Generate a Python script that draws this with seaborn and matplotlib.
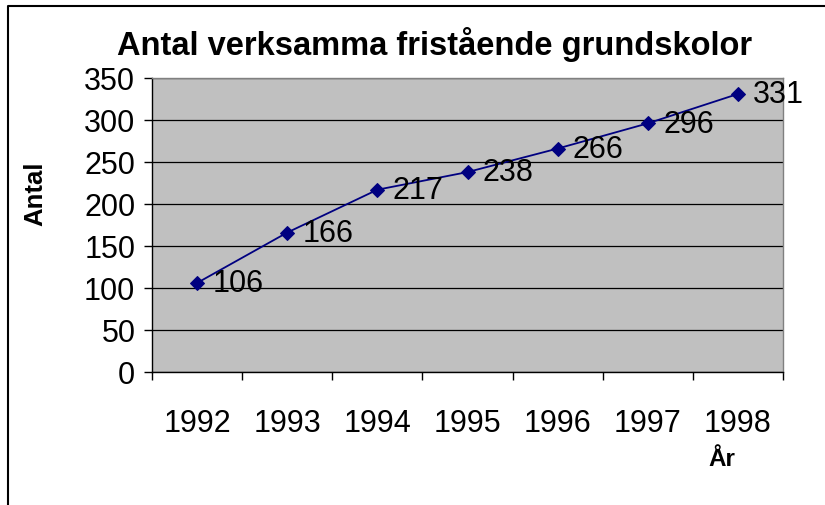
import numpy as np
import pandas as pd
import seaborn as sns
import matplotlib.pyplot as plt
from matplotlib.lines import Line2D
from matplotlib.ticker import FixedLocator, MultipleLocator

# data
years = ["1992", "1993", "1994", "1995", "1996", "1997", "1998"]
schools = [106, 166, 217, 238, 266, 296, 331]

title = "Antal verksamma fristående grundskolor"
x_label = "År"
y_label = "Antal"

df = pd.DataFrame({"year": years, "antal": schools})

sns.set_style("white")
plt.rcParams["font.family"] = ["Liberation Sans", "DejaVu Sans"]
plt.rcParams.update({"text.color": "black", "axes.labelcolor": "black",
                     "xtick.color": "black", "ytick.color": "black"})

fig = plt.figure(figsize=(8.25, 5.05), dpi=100)
ax = fig.add_axes([152 / 825, 1 - 372 / 505, 631 / 825, 294 / 505])
ax.set_facecolor("#C0C0C0")

sns.lineplot(data=df, x="year", y="antal", ax=ax, color="#000080",
             marker="D", markersize=7.5, markeredgecolor="#000080",
             linewidth=1.3, sort=False)

# value labels
for i, v in enumerate(df["antal"]):
    ax.annotate(str(v), (i, v), xytext=(11, -1), textcoords="offset points",
                va="center", ha="left", fontsize=22, color="black")

ax.set_ylim(0, 350)
ax.set_xlim(-0.5, len(years) - 0.5)
ax.yaxis.set_major_locator(MultipleLocator(50))
ax.grid(axis="y", color="#000000", linewidth=0.9)
ax.set_axisbelow(True)

# x ticks: labels at centers, tick marks at category boundaries
ax.set_xticks(range(len(years)))
ax.set_xticklabels(years)
ax.xaxis.set_minor_locator(FixedLocator(np.arange(-0.5, len(years), 1.0)))
ax.tick_params(axis="x", which="major", length=0, pad=27, labelsize=22)
ax.tick_params(axis="x", which="minor", length=6, width=1, color="black",
               direction="out", bottom=True)
ax.tick_params(axis="y", length=6, width=1, color="black", direction="out",
               left=True, pad=6, labelsize=22)

for side in ["left", "bottom"]:
    ax.spines[side].set_color("black")
    ax.spines[side].set_linewidth(1.0)
for side in ["top", "right"]:
    ax.spines[side].set_color("#808080")
    ax.spines[side].set_linewidth(1.0)

ax.set_xlabel(x_label, fontsize=17.5, fontweight="bold")
ax.xaxis.set_label_coords((722 - 152) / 631, -(460 - 372) / 294)
ax.xaxis.label.set_va("center")
ax.set_ylabel(y_label, fontsize=18.5, fontweight="bold")
ax.yaxis.set_label_coords((35 - 152) / 631, (372 - 194) / 294)
ax.yaxis.label.set_va("center")

fig.text(435 / 825, 1 - 45 / 505, title, ha="center", va="center",
         fontsize=23.5, fontweight="bold")

# chart border (top and left edge visible)
fig.add_artist(Line2D([8 / 825, 8 / 825, 1.0], [0.0, 1 - 6 / 505, 1 - 6 / 505],
                      transform=fig.transFigure, color="black", linewidth=1.5))

fig.savefig("out.png", dpi=100)
